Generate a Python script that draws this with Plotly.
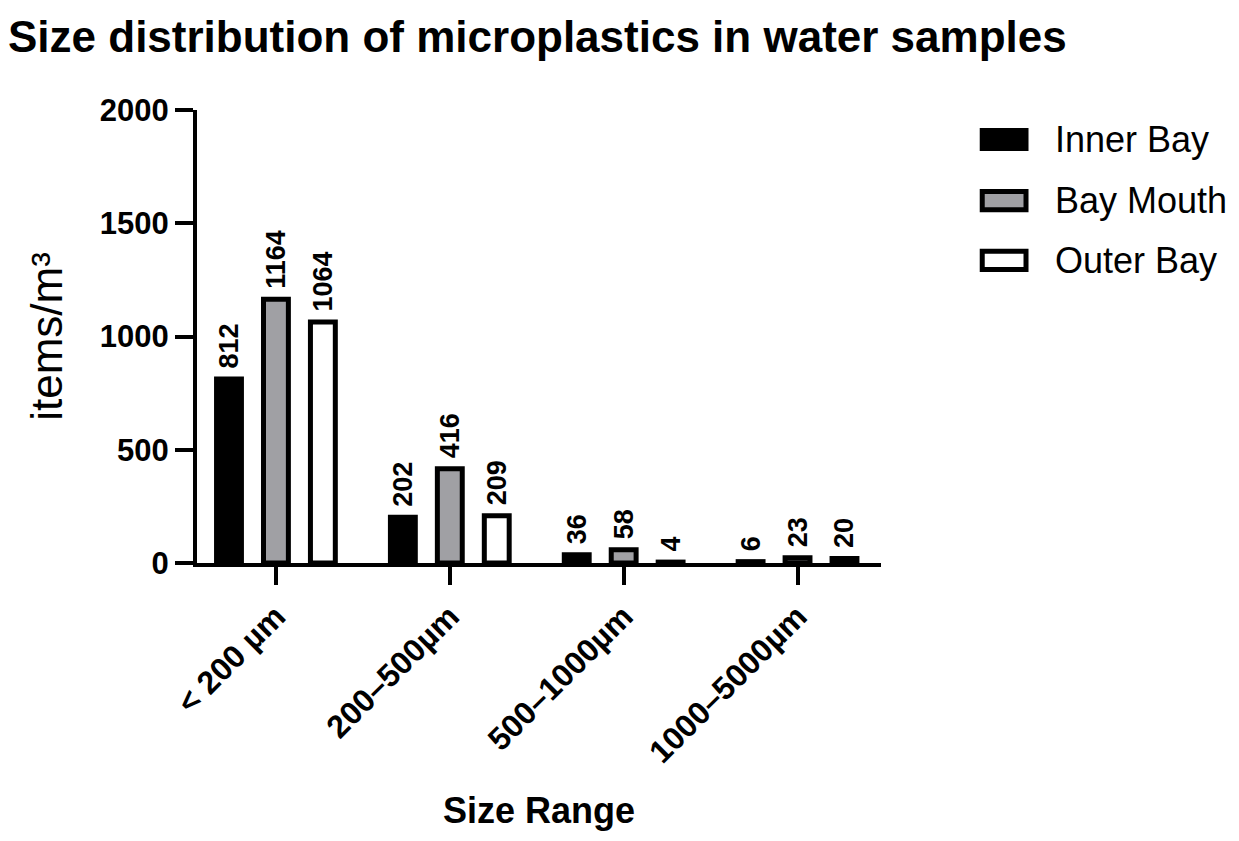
import plotly.graph_objects as go

# size classes and concentrations (items/m3)
size_ranges = ["< 200 µm", "200–500µm", "500–1000µm", "1000–5000µm"]
inner_bay = [812, 202, 36, 6]
bay_mouth = [1164, 416, 58, 23]
outer_bay = [1064, 209, 4, 20]

series = [
    ("Inner Bay", inner_bay, "#000000"),
    ("Bay Mouth", bay_mouth, "#A0A0A4"),
    ("Outer Bay", outer_bay, "#FFFFFF"),
]

font = "Liberation Sans, Arial, sans-serif"

fig = go.Figure()
for name, vals, color in series:
    fig.add_trace(go.Bar(
        name=name,
        x=size_ranges,
        y=vals,
        marker=dict(color=color, line=dict(color="black", width=5)),
        text=["\u00a0" + str(v) for v in vals],
        textposition="outside",
        textangle=-90,
        constraintext="none",
        cliponaxis=False,
        showlegend=False,
        textfont=dict(family=font, size=27, color="black", weight="bold"),
    ))

# legend drawn by hand so the swatches can be as large as in the original
legend_y = [0.935, 0.800, 0.668]
for (name, vals, color), yc in zip(series, legend_y):
    fig.add_shape(
        type="rect", xref="paper", yref="paper",
        x0=1.148, x1=1.212, y0=yc - 0.020, y1=yc + 0.020,
        fillcolor=color, line=dict(color="black", width=5),
    )
    fig.add_annotation(
        text=name, xref="paper", yref="paper",
        x=1.252, y=yc, xanchor="left", yanchor="middle",
        showarrow=False, font=dict(size=36, family=font, color="black"),
    )

fig.update_layout(
    width=1239,
    height=841,
    barmode="group",
    bargap=0.19,
    bargroupgap=0.47,
    plot_bgcolor="white",
    paper_bgcolor="white",
    margin=dict(l=189, r=366, t=102, b=286),
    font=dict(family=font, color="black"),
    title=dict(
        text="<b>Size distribution of microplastics in water samples</b>",
        x=0.0, xanchor="left", xref="container",
        y=0.966, yanchor="middle",
        font=dict(size=44, family=font, color="black"),
    ),
)

fig.update_xaxes(
    range=[-0.454, 3.48],
    showline=True, linecolor="black", linewidth=4,
    ticks="outside", ticklen=18, tickwidth=4, tickcolor="black",
    tickangle=-45,
    tickfont=dict(size=32, family=font, weight="bold"),
    title=dict(text="<b>Size Range</b>", font=dict(size=36, family=font), standoff=30),
    showgrid=False, zeroline=False, automargin=False,
)
fig.update_yaxes(
    range=[0, 2000],
    tickvals=[0, 500, 1000, 1500, 2000],
    showline=True, linecolor="black", linewidth=4,
    ticks="outside", ticklen=18, tickwidth=4, tickcolor="black",
    tickfont=dict(size=31, family=font, weight="bold"),
    title=dict(text="items/m³", font=dict(size=44, family=font), standoff=24),
    showgrid=False, zeroline=False, automargin=False,
)

fig.write_html("out.html")
